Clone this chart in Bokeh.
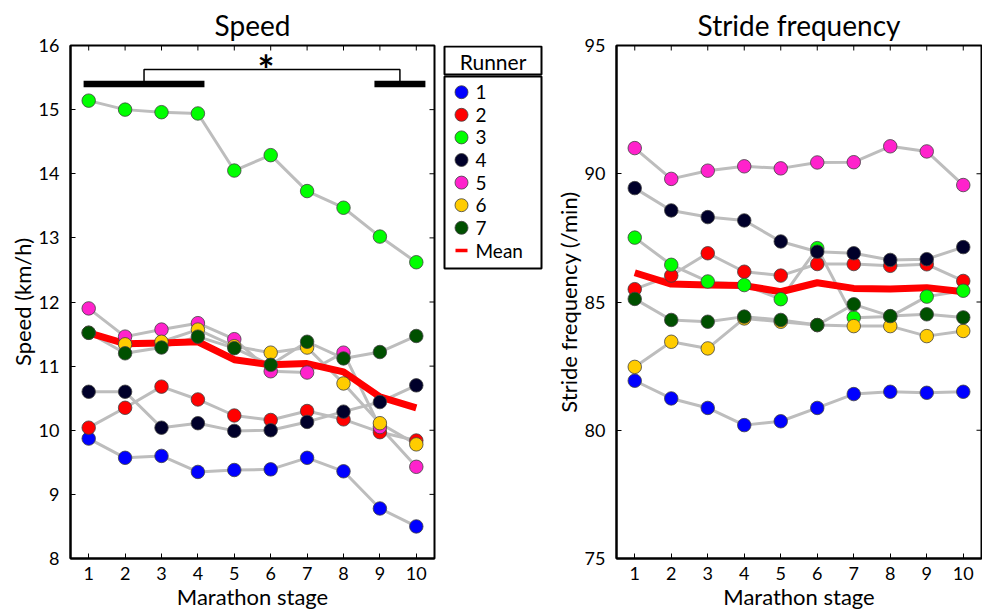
import math
from bokeh.plotting import figure
from bokeh.models import FixedTicker, Range1d
from bokeh.layouts import row
from bokeh.core.properties import value
from bokeh.embed import file_html
from bokeh.resources import INLINE

# ---------------- data ----------------
stages = [1, 2, 3, 4, 5, 6, 7, 8, 9, 10]
runners = ["1", "2", "3", "4", "5", "6", "7"]
runner_colors = ["#0000ff", "#ff0000", "#00ff00", "#00002a", "#ff22cc", "#ffcc00", "#005000"]

speed_r1 = [9.87, 9.57, 9.60, 9.35, 9.38, 9.39, 9.57, 9.36, 8.78, 8.50]
speed_r2 = [10.04, 10.35, 10.68, 10.48, 10.23, 10.16, 10.30, 10.17, 9.97, 9.84]
speed_r3 = [15.14, 15.00, 14.96, 14.94, 14.05, 14.29, 13.73, 13.47, 13.02, 12.62]
speed_r4 = [10.60, 10.60, 10.04, 10.11, 9.99, 10.00, 10.13, 10.29, 10.44, 10.70]
speed_r5 = [11.90, 11.46, 11.57, 11.67, 11.42, 10.92, 10.90, 11.21, 10.05, 9.43]
speed_r6 = [11.52, 11.34, 11.38, 11.57, 11.31, 11.21, 11.29, 10.73, 10.11, 9.78]
speed_r7 = [11.52, 11.20, 11.29, 11.46, 11.28, 11.02, 11.38, 11.12, 11.22, 11.47]
speed_mean = [11.52, 11.35, 11.36, 11.38, 11.10, 11.02, 11.04, 10.91, 10.52, 10.35]

stride_r1 = [81.93, 81.24, 80.87, 80.20, 80.35, 80.87, 81.41, 81.50, 81.46, 81.50]
stride_r2 = [85.50, 86.03, 86.90, 86.18, 86.03, 86.48, 86.48, 86.41, 86.47, 85.82]
stride_r3 = [87.51, 86.45, 85.80, 85.66, 85.11, 87.10, 84.39, 84.43, 85.21, 85.44]
stride_r4 = [89.44, 88.57, 88.31, 88.18, 87.36, 86.96, 86.90, 86.64, 86.67, 87.14]
stride_r5 = [91.00, 89.80, 90.12, 90.29, 90.21, 90.44, 90.45, 91.07, 90.87, 89.56]
stride_r6 = [82.47, 83.45, 83.19, 84.36, 84.23, 84.10, 84.06, 84.06, 83.67, 83.87]
stride_r7 = [85.12, 84.30, 84.23, 84.43, 84.30, 84.10, 84.91, 84.45, 84.52, 84.40]
stride_mean = [86.14, 85.70, 85.66, 85.64, 85.40, 85.75, 85.53, 85.51, 85.56, 85.40]

speed_ticks = [8, 9, 10, 11, 12, 13, 14, 15, 16]
stride_ticks = [75, 80, 85, 90, 95]

# significance annotation (stage ranges compared, speed level)
sig_groups = [(0.86, 4.18), (8.85, 10.25)]
sig_bar_y = 15.40
sig_bracket_y = 15.625
sig_star_x = 5.87
sig_star_y = 15.62

FONT = "Lato"
X_RANGE = (0.5, 10.5)
speed_series = [speed_r1, speed_r2, speed_r3, speed_r4, speed_r5, speed_r6, speed_r7]
stride_series = [stride_r1, stride_r2, stride_r3, stride_r4, stride_r5, stride_r6, stride_r7]


def make_panel(title, ylabel, yrange, yticks, series, mean, mb_left, mb_right, fw):
    p = figure(frame_width=fw, frame_height=513,
               x_range=Range1d(*X_RANGE), y_range=Range1d(*yrange),
               min_border_left=mb_left, min_border_right=mb_right,
               min_border_top=45, min_border_bottom=56,
               output_backend="svg", toolbar_location=None, title=title)
    p.grid.visible = False
    p.background_fill_color = "white"
    p.border_fill_color = "white"
    p.outline_line_color = "black"
    p.outline_line_width = 2
    p.title.align = "center"
    p.title.text_font = FONT
    p.title.text_font_size = "28px"
    p.title.text_font_style = "normal"
    p.title.text_color = "black"
    p.title.standoff = 8

    for ax in p.xaxis:
        ax.ticker = FixedTicker(ticks=stages)
        ax.axis_label = "Marathon stage"
    for ax in p.yaxis:
        ax.ticker = FixedTicker(ticks=yticks)
        ax.axis_label = ylabel
    for ax in list(p.xaxis) + list(p.yaxis):
        ax.major_tick_in = 5
        ax.major_tick_out = 0
        ax.minor_tick_line_color = None
        ax.axis_line_width = 2
        ax.major_tick_line_width = 1
        ax.major_label_text_font = FONT
        ax.major_label_text_font_size = "18px"
        ax.major_label_text_color = "black"
        ax.axis_label_text_font = FONT
        ax.axis_label_text_font_size = "22px"
        ax.axis_label_text_font_style = "normal"
        ax.axis_label_text_color = "black"
        ax.axis_label_standoff = 0
    p.xaxis.major_label_standoff = 8
    p.yaxis.major_label_standoff = 11

    # inward tick marks on the top and right edges of the box
    p.scatter(stages, [yrange[1]] * len(stages), marker="dash", angle=math.pi / 2,
              size=10, line_color="black", line_width=1)
    p.scatter([X_RANGE[1]] * len(yticks), yticks, marker="dash",
              size=10, line_color="black", line_width=1)

    for ys in series:
        p.line(stages, ys, line_color="#bdbdbd", line_width=3)
    p.line(stages, mean, line_color="#ff0000", line_width=7)
    for ys, c in zip(series, runner_colors):
        p.scatter(stages, ys, size=13.5, fill_color=c, line_color="#404040", line_width=0.8)
    return p


p1 = make_panel("Speed", "Speed (km/h)", (8, 16), speed_ticks, speed_series, speed_mean, 70, 6, 364)
p2 = make_panel("Stride frequency", "Stride frequency (/min)", (75, 95), stride_ticks,
                stride_series, stride_mean, 68, 1, 365)

# significance bars and bracket on speed panel
for a, b in sig_groups:
    p1.line([a, b], [sig_bar_y, sig_bar_y], line_color="black", line_width=6.5, line_cap="butt")
mids = [(a + b) / 2 for a, b in sig_groups]
p1.line([mids[0], mids[0], mids[1], mids[1]],
        [sig_bar_y, sig_bracket_y, sig_bracket_y, sig_bar_y], line_color="black", line_width=1.5)
p1.text(x=[sig_star_x], y=[sig_star_y], text=["*"], text_font=value(FONT), text_font_size="40px",
        text_font_style="bold", text_align="center", text_baseline="middle", text_color="black")

# ---------------- legend panel (pixel-like coordinates) ----------------
LW = 108
leg = figure(frame_width=LW, frame_height=513, x_range=Range1d(0, LW), y_range=Range1d(558, 45),
             min_border_left=0, min_border_right=0, min_border_top=45, min_border_bottom=56,
             x_axis_type=None, y_axis_type=None,
             output_backend="svg", toolbar_location=None)
leg.grid.visible = False
leg.outline_line_color = None
box_l, box_r = 4, 101
head_t, head_b = 46, 74
body_t, body_b = 76, 268
leg.quad(left=[box_l], right=[box_r], top=[head_t], bottom=[head_b],
         fill_color="white", line_color="black", line_width=2)
leg.quad(left=[box_l], right=[box_r], top=[body_t], bottom=[body_b],
         fill_color="white", line_color="black", line_width=2)
leg.text(x=[(box_l + box_r) / 2], y=[(head_t + head_b) / 2 + 1], text=["Runner"],
         text_font=value(FONT), text_font_size="21px", text_align="center",
         text_baseline="middle", text_color="black")
row0, pitch = 91.7, 22.6
ys_leg = [row0 + i * pitch for i in range(len(runners))]
leg.scatter([21] * len(runners), ys_leg, size=13, fill_color=runner_colors,
            line_color="#404040", line_width=0.8)
leg.text(x=[35] * len(runners), y=ys_leg, text=runners, text_font=value(FONT),
         text_font_size="19px", text_baseline="middle", text_color="black")
mean_y = row0 + len(runners) * pitch
leg.line([15, 27], [mean_y, mean_y], line_color="#ff0000", line_width=3.5)
leg.text(x=[35], y=[mean_y], text=["Mean"], text_font=value(FONT),
         text_font_size="19px", text_baseline="middle", text_color="black")

layout = row(p1, leg, p2, spacing=0)
open("out.html", "w").write(file_html(layout, INLINE))
